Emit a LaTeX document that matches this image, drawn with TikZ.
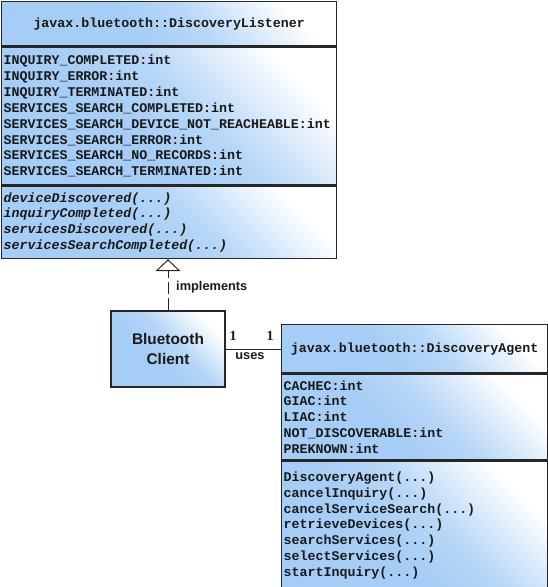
\documentclass[tikz,border=0pt]{standalone}
\usepackage{fontspec}
\setmainfont{Liberation Serif}
\setsansfont{Liberation Sans}
\setmonofont{Liberation Mono}
\usepackage{tikz}
\usetikzlibrary{positioning, arrows.meta, shapes}
\definecolor{cFill}{HTML}{A6CDF5}
\definecolor{cLine}{HTML}{262626}
\definecolor{cText}{HTML}{1A1A1A}
\pgfdeclareverticalshading{umlfade}{100bp}{color(0bp)=(white); color(25bp)=(white);
  color(45bp)=(cFill!80!white); color(58bp)=(cFill); color(100bp)=(cFill)}
\newcommand{\umlfont}{\fontsize{13.3pt}{15.9pt}\selectfont\ttfamily\bfseries}

\begin{document}
\begin{tikzpicture}[x=1pt, y=1pt,
    part/.style={draw=cLine, line width=1.4pt, shade, shading=umlfade, shading angle=135,
      inner xsep=2pt, inner ysep=0pt, anchor=north west, align=left, font=\umlfont, text=cText},
    tag/.style={font=\fontsize{12.8pt}{14pt}\selectfont\sffamily\bfseries, text=cText, inner sep=0pt}]
  \useasboundingbox (0,0) rectangle (548,-587);

  % DiscoveryListener
  \node[part, align=center, text width=331pt, minimum height=44pt] (lhead) at (1,-1)
    {javax.bluetooth::DiscoveryListener};
  \node[part, text width=331pt, minimum height=138pt] (lattr) at (lhead.south west)
    {INQUIRY\_COMPLETED:int\\INQUIRY\_ERROR:int\\INQUIRY\_TERMINATED:int\\
     SERVICES\_SEARCH\_COMPLETED:int\\SERVICES\_SEARCH\_DEVICE\_NOT\_REACHEABLE:int\\
     SERVICES\_SEARCH\_ERROR:int\\SERVICES\_SEARCH\_NO\_RECORDS:int\\
     SERVICES\_SEARCH\_TERMINATED:int};
  \node[part, text width=331pt, minimum height=72pt, font=\umlfont\itshape] (lmeth) at (lattr.south west)
    {deviceDiscovered(...)\\inquiryCompleted(...)\\servicesDiscovered(...)\\
     servicesSearchCompleted(...)};

  % client
  \node[part, anchor=center, align=center, inner sep=0pt, minimum width=114pt, minimum height=76pt,
    font=\fontsize{15.4pt}{20pt}\selectfont\sffamily\bfseries] (client) at (168,-349)
    {Bluetooth\\Client};

  % DiscoveryAgent
  \node[part, align=center, text width=262pt, minimum height=48pt] (ahead) at (281,-324)
    {javax.bluetooth::DiscoveryAgent};
  \node[part, text width=262pt, minimum height=86pt] (aattr) at (ahead.south west)
    {CACHEC:int\\GIAC:int\\LIAC:int\\NOT\_DISCOVERABLE:int\\PREKNOWN:int};
  \node[part, text width=262pt, minimum height=128pt] (ameth) at (aattr.south west)
    {DiscoveryAgent(...)\\cancelInquiry(...)\\cancelServiceSearch(...)\\
     retrieveDevices(...)\\searchServices(...)\\selectServices(...)\\startInquiry(...)};

  % implements
  \draw[cLine, line width=1pt, dash pattern=on 12pt off 4pt,
    -{Triangle[open, length=12pt, width=25pt, line width=1pt]}]
    (client.north) -- (client.north |- lmeth.south);
  \node[tag, anchor=west] (impl) at (176,-287) {implements};

  % uses
  \draw[cLine, line width=1pt] (client.east) -- (client.east -| ahead.west);
  \node[font=\fontsize{14pt}{14pt}\selectfont\bfseries, text=cText] (m1) at (233,-336) {1};
  \node[font=\fontsize{14pt}{14pt}\selectfont\bfseries, text=cText] (m2) at (270,-336) {1};
  \node[tag] (uses) at (250,-356) {uses};
\end{tikzpicture}
\end{document}
